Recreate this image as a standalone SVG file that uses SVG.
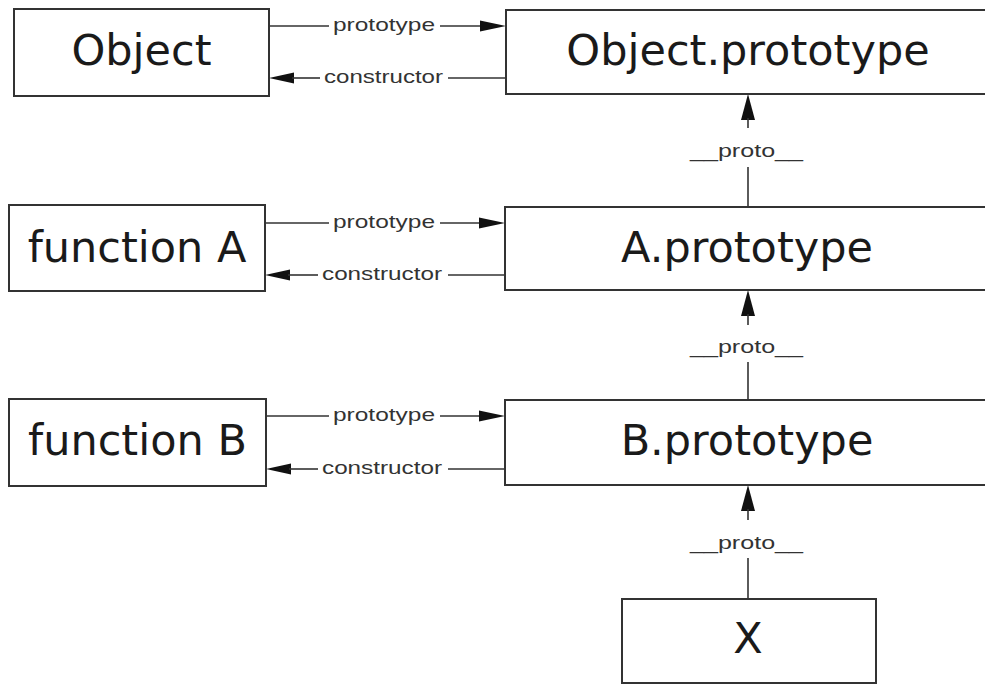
<svg xmlns="http://www.w3.org/2000/svg" width="985" height="684" viewBox="0 0 985 684">
  <style>
    .box { fill: #ffffff; stroke: #333333; stroke-width: 2; }
    .name { font-family: "DejaVu Sans", Verdana, sans-serif; font-size: 43px; fill: #1a1a1a; text-anchor: middle; }
    .ln { stroke: #333333; stroke-width: 1.6; fill: none; }
    .head { fill: #111111; stroke: none; }
    .lbl { font-family: "Liberation Sans", Arial, sans-serif; font-size: 19px; fill: #333333; }
  </style>
  <rect width="985" height="684" fill="#ffffff"/>

  <g id="connectors">
    <!-- Row 1 -->
    <g id="obj-prototype">
      <line class="ln" x1="269" y1="26" x2="329" y2="26"/>
      <line class="ln" x1="440" y1="26" x2="482" y2="26"/>
      <polygon class="head" points="506,26 480,20.5 480,31.5"/>
      <text class="lbl" x="333" y="31" textLength="102" lengthAdjust="spacingAndGlyphs">prototype</text>
    </g>
    <g id="obj-constructor">
      <polygon class="head" points="269,78 294,72.5 294,83.5"/>
      <line class="ln" x1="292" y1="78" x2="320" y2="78"/>
      <line class="ln" x1="448" y1="78" x2="506" y2="78"/>
      <text class="lbl" x="324" y="83" textLength="119" lengthAdjust="spacingAndGlyphs">constructor</text>
    </g>
    <!-- Row 2 -->
    <g id="a-prototype">
      <line class="ln" x1="265" y1="223" x2="329" y2="223"/>
      <line class="ln" x1="440" y1="223" x2="482" y2="223"/>
      <polygon class="head" points="505,223 479,217.5 479,228.5"/>
      <text class="lbl" x="333" y="228" textLength="102" lengthAdjust="spacingAndGlyphs">prototype</text>
    </g>
    <g id="a-constructor">
      <polygon class="head" points="265,275 290,269.5 290,280.5"/>
      <line class="ln" x1="288" y1="275" x2="318" y2="275"/>
      <line class="ln" x1="448" y1="275" x2="505" y2="275"/>
      <text class="lbl" x="322" y="280" textLength="120" lengthAdjust="spacingAndGlyphs">constructor</text>
    </g>
    <!-- Row 3 -->
    <g id="b-prototype">
      <line class="ln" x1="266" y1="416" x2="329" y2="416"/>
      <line class="ln" x1="440" y1="416" x2="482" y2="416"/>
      <polygon class="head" points="505,416 479,410.5 479,421.5"/>
      <text class="lbl" x="333" y="421" textLength="102" lengthAdjust="spacingAndGlyphs">prototype</text>
    </g>
    <g id="b-constructor">
      <polygon class="head" points="266,469 291,463.5 291,474.5"/>
      <line class="ln" x1="289" y1="469" x2="318" y2="469"/>
      <line class="ln" x1="448" y1="469" x2="505" y2="469"/>
      <text class="lbl" x="322" y="474" textLength="120" lengthAdjust="spacingAndGlyphs">constructor</text>
    </g>
    <!-- Vertical __proto__ links -->
    <g id="proto-a-obj">
      <polygon class="head" points="748,94 741,120 755,120"/>
      <line class="ln" x1="748" y1="118" x2="748" y2="128"/>
      <line class="ln" x1="748" y1="167" x2="748" y2="207"/>
      <text class="lbl" x="690" y="157" textLength="113" lengthAdjust="spacingAndGlyphs">__proto__</text>
    </g>
    <g id="proto-b-a">
      <polygon class="head" points="748,290 741,316 755,316"/>
      <line class="ln" x1="748" y1="314" x2="748" y2="325"/>
      <line class="ln" x1="748" y1="362" x2="748" y2="400"/>
      <text class="lbl" x="690" y="353" textLength="113" lengthAdjust="spacingAndGlyphs">__proto__</text>
    </g>
    <g id="proto-x-b">
      <polygon class="head" points="748,485 741,511 755,511"/>
      <line class="ln" x1="748" y1="509" x2="748" y2="520"/>
      <line class="ln" x1="748" y1="558" x2="748" y2="599"/>
      <text class="lbl" x="690" y="549" textLength="113" lengthAdjust="spacingAndGlyphs">__proto__</text>
    </g>
  </g>

  <g id="Object">
    <rect class="box" x="14" y="9" width="255" height="87"/>
    <text class="name" x="141.5" y="65">Object</text>
  </g>
  <g id="ObjectPrototype">
    <rect class="box" x="506" y="10" width="484" height="84"/>
    <text class="name" x="748" y="65">Object.prototype</text>
  </g>
  <g id="functionA">
    <rect class="box" x="9" y="205" width="256" height="86"/>
    <text class="name" x="137" y="262">function A</text>
  </g>
  <g id="APrototype">
    <rect class="box" x="505" y="207" width="485" height="83"/>
    <text class="name" x="747" y="262">A.prototype</text>
  </g>
  <g id="functionB">
    <rect class="box" x="9" y="399" width="257" height="87"/>
    <text class="name" x="137.5" y="455">function B</text>
  </g>
  <g id="BPrototype">
    <rect class="box" x="505" y="400" width="485" height="85"/>
    <text class="name" x="747" y="455">B.prototype</text>
  </g>
  <g id="X">
    <rect class="box" x="622" y="599" width="254" height="84"/>
    <text class="name" x="748" y="653">X</text>
  </g>
</svg>
